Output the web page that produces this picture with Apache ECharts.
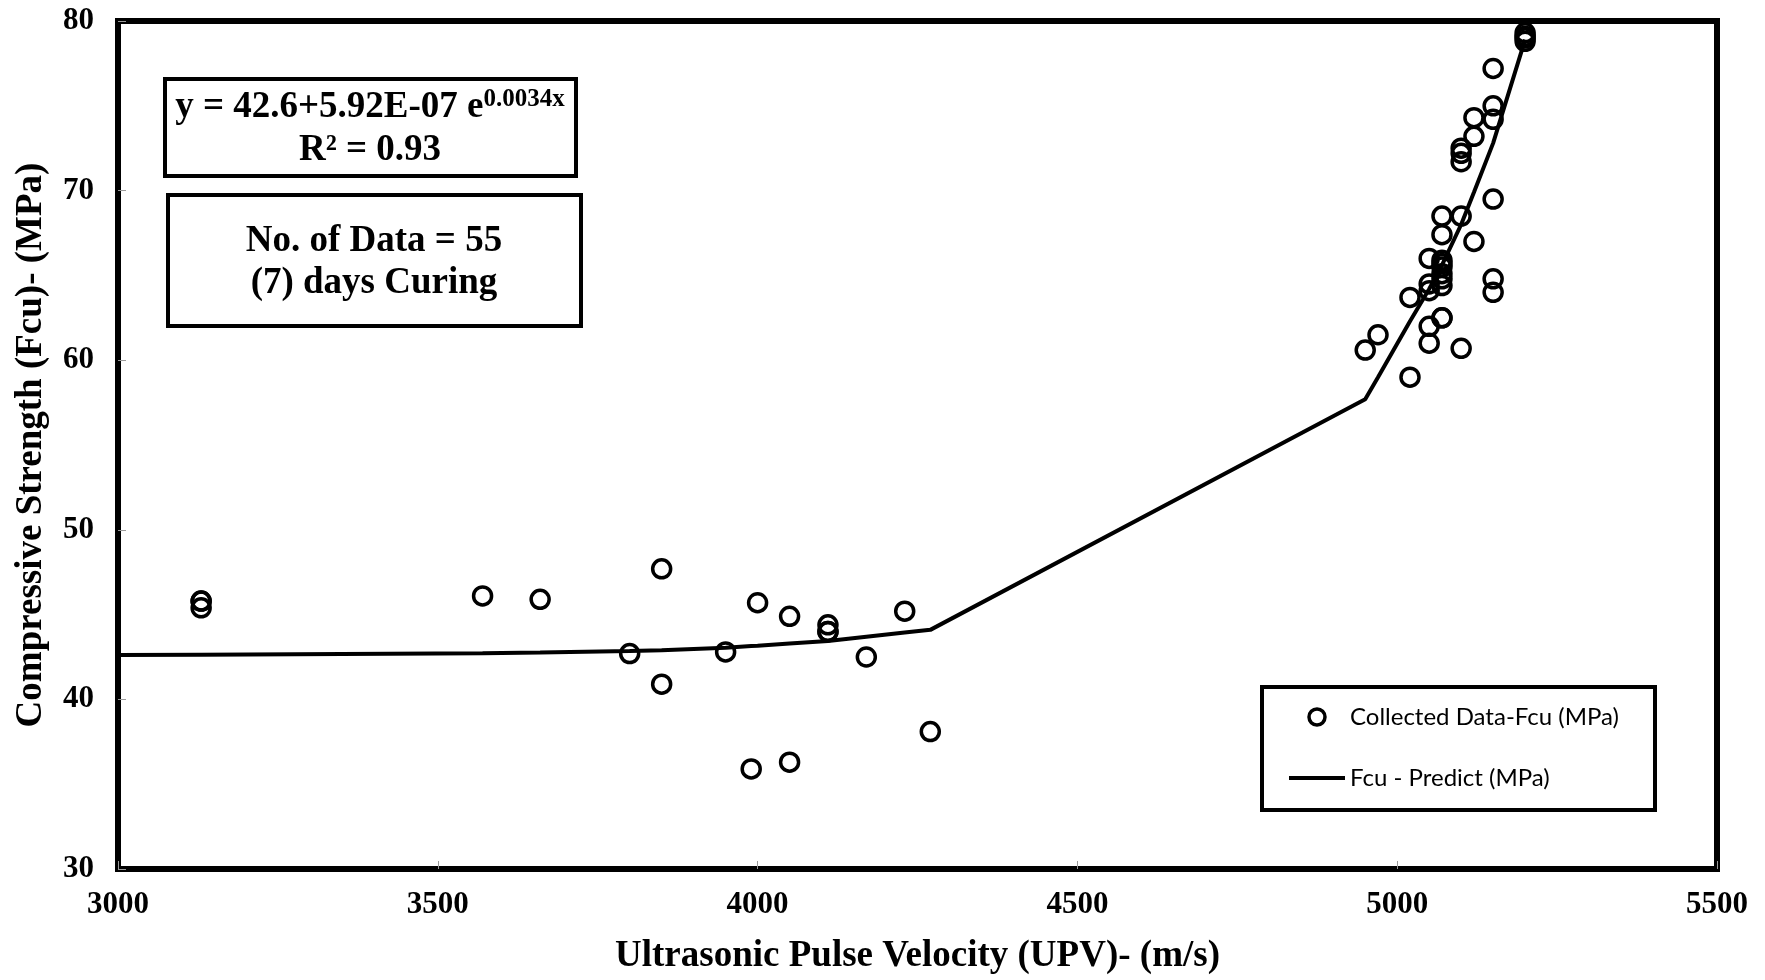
<!DOCTYPE html>
<html>
<head>
<meta charset="utf-8">
<title>UPV vs Fcu</title>
<script src="https://cdn.jsdelivr.net/npm/echarts@6/dist/echarts.min.js"></script>
<style>
  html, body { margin: 0; padding: 0; background: #fff; }
  #chart { width: 1765px; height: 980px; }
</style>
</head>
<body>
<div id="chart"></div>
<script>
// collected data
const upv = [
  3130, 3130, 3130, 3570, 3660, 3800, 3850, 3850, 3950, 3990,
  4000, 4050, 4050, 4110, 4110, 4110, 4170, 4230, 4270, 4950,
  4970, 5020, 5020, 5050, 5050, 5050, 5050, 5050, 5070, 5070,
  5070, 5070, 5070, 5070, 5070, 5070, 5070, 5070, 5100, 5100,
  5100, 5100, 5100, 5120, 5120, 5120, 5150, 5150, 5150, 5150,
  5150, 5150, 5200, 5200, 5200, 5200
];
const fcu = [
  45.8, 45.8, 45.4, 46.1, 45.9, 42.7, 47.7, 40.9, 42.8, 35.9,
  45.7, 44.9, 36.3, 44.4, 44.0, 44.0, 42.5, 45.2, 38.1, 60.6,
  61.5, 63.7, 59.0, 66.0, 64.5, 64.1, 62.0, 61.0, 68.5, 67.4,
  65.9, 65.7, 65.5, 65.1, 64.8, 64.4, 62.5, 62.5, 72.5, 72.2,
  71.7, 68.5, 60.7, 74.3, 73.2, 67.0, 77.2, 75.0, 74.2, 69.5,
  64.8, 64.0, 79.3, 79.1, 79.0, 78.8
];

// predicted curve vertices
const predUpv = [3000, 3130, 3570, 3660, 3800, 3850, 3950, 3990, 4000, 4050, 4110, 4170, 4230, 4270,
  4950, 4970, 5020, 5050, 5070, 5100, 5120, 5150, 5200];
const predFcu = [42.62, 42.64, 42.72, 42.76, 42.85, 42.9, 43.05, 43.15, 43.17, 43.3, 43.45, 43.7, 43.95, 44.1,
  57.7, 59.0, 62.3, 64.2, 65.6, 68.0, 69.9, 72.8, 78.9];

const xTicks = [3000, 3500, 4000, 4500, 5000, 5500];
const yTicks = [30, 40, 50, 60, 70, 80];

const chart = echarts.init(document.getElementById('chart'));

const serif = '"Liberation Serif", "Times New Roman", serif';

const option = {
  backgroundColor: '#fff',
  animation: false,
  grid: {
    left: 118, right: 48, top: 21, bottom: 110,
    show: true, borderColor: '#000', borderWidth: 6
  },
  legend: {
    orient: 'vertical',
    left: 1289, top: 705,
    padding: 0,
    itemWidth: 56, itemHeight: 16, itemGap: 37,
    textStyle: { fontFamily: 'Lato, "Noto Sans", sans-serif', fontSize: 24, color: '#000', lineHeight: 24 },
    data: [
      { name: 'Collected Data-Fcu (MPa)', itemStyle: { borderWidth: 3.5, borderColor: '#000' } },
      // plain bar for the line item, no marker
      { name: 'Fcu - Predict (MPa)', icon: 'path://M0,0 L56,0 L56,4 L0,4 Z' }
    ]
  },
  xAxis: {
    type: 'value',
    min: xTicks[0], max: xTicks[xTicks.length - 1], interval: 500,
    name: 'Ultrasonic Pulse Velocity (UPV)- (m/s)',
    nameLocation: 'middle', nameGap: 69,
    nameTextStyle: { fontFamily: serif, fontWeight: 'bold', fontSize: 37, color: '#000' },
    axisLine: { show: false },
    axisTick: { inside: true, length: 8, lineStyle: { color: '#999' } },
    axisLabel: {
      margin: 20, fontFamily: serif, fontWeight: 'bold', fontSize: 31, color: '#000',
      formatter: v => String(v)
    },
    splitLine: { show: false }
  },
  yAxis: {
    type: 'value',
    min: yTicks[0], max: yTicks[yTicks.length - 1], interval: 10,
    name: 'Compressive Strength (Fcu)- (MPa)',
    nameLocation: 'middle', nameGap: 68,
    nameTextStyle: { fontFamily: serif, fontWeight: 'bold', fontSize: 37, color: '#000' },
    axisLine: { show: false },
    axisTick: { inside: true, length: 8, lineStyle: { color: '#999' } },
    axisLabel: { margin: 24, fontFamily: serif, fontWeight: 'bold', fontSize: 31, color: '#000' },
    splitLine: { show: false }
  },
  graphic: [
    {
      type: 'rect', z: 10,
      shape: { x: 165, y: 79, width: 411, height: 97 },
      style: { fill: '#fff', stroke: '#000', lineWidth: 4 }
    },
    {
      type: 'text', z: 11, x: 370, y: 107,
      style: {
        text: '{m|y = 42.6+5.92E-07 e}{s|0.0034x}',
        align: 'center', verticalAlign: 'middle',
        rich: {
          m: { fontFamily: serif, fontWeight: 'bold', fontSize: 37, fill: '#000', lineHeight: 40 },
          s: { fontFamily: serif, fontWeight: 'bold', fontSize: 25, fill: '#000', verticalAlign: 'top', lineHeight: 40 }
        }
      }
    },
    {
      type: 'text', z: 11, x: 370, y: 150,
      style: {
        text: 'R\u00b2 = 0.93', align: 'center', verticalAlign: 'middle',
        fontFamily: serif, fontWeight: 'bold', fontSize: 37, fill: '#000'
      }
    },
    {
      type: 'rect', z: 10,
      shape: { x: 168, y: 195, width: 413, height: 131 },
      style: { fill: '#fff', stroke: '#000', lineWidth: 4 }
    },
    {
      type: 'text', z: 11, x: 374, y: 262,
      style: {
        text: 'No. of Data = 55\n(7) days Curing', align: 'center', verticalAlign: 'middle',
        fontFamily: serif, fontWeight: 'bold', fontSize: 37, lineHeight: 42, fill: '#000'
      }
    },
    // legend frame
    {
      type: 'rect', z: 0,
      shape: { x: 1262, y: 687, width: 393, height: 123 },
      style: { fill: '#fff', stroke: '#000', lineWidth: 4 }
    }
  ],
  series: [
    {
      name: 'Collected Data-Fcu (MPa)',
      type: 'scatter',
      symbol: 'circle',
      symbolSize: 18,
      itemStyle: { color: 'rgba(255,255,255,0)', borderColor: '#000', borderWidth: 3.5, opacity: 1 },
      data: upv.map((x, i) => [x, fcu[i]]),
      z: 3
    },
    {
      name: 'Fcu - Predict (MPa)',
      type: 'line',
      symbol: 'none',
      smooth: false,
      lineStyle: { color: '#000', width: 4 },
      itemStyle: { color: '#000' },
      data: predUpv.map((x, i) => [x, predFcu[i]]),
      z: 4
    }
  ]
};

chart.setOption(option);
</script>
</body>
</html>
